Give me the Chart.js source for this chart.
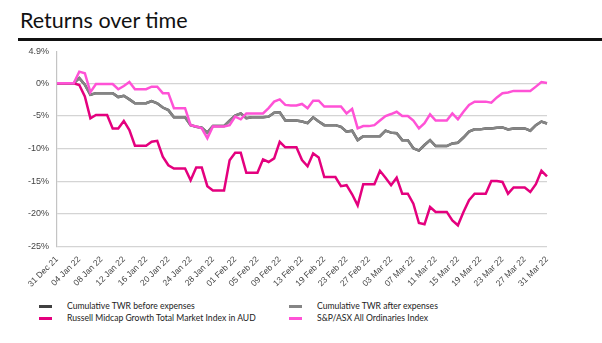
<!DOCTYPE html>
<html>
<head>
<meta charset="utf-8">
<title>Returns over time</title>
<script src="https://cdn.jsdelivr.net/npm/chart.js@4.4.1/dist/chart.umd.min.js"></script>
<style>
  html, body { margin: 0; padding: 0; background: #fff; }
  #wrap { position: relative; width: 602px; height: 343px; overflow: hidden; }
  #title {
    position: absolute; left: 20px; top: 8px;
    font-family: Lato, "Open Sans", sans-serif; font-size: 21.5px; color: #111;
    line-height: 25px;
  }
  #rule { position: absolute; left: 18px; right: 0; top: 37.5px; height: 3px; background: #111; }
  #returns-chart { position: absolute; left: 0; top: 0; }
  .leg { position: absolute; font-family: Lato, "Open Sans", sans-serif; font-size: 8.6px; color: #222; line-height: 12px; white-space: nowrap; }
  .leg span { position: absolute; left: -28px; top: 4.5px; width: 13px; height: 3px; }
</style>
</head>
<body>
<div id="wrap">
  <div id="title">Returns over time</div>
  <div id="rule"></div>
  <canvas id="returns-chart" width="602" height="300"></canvas>
  <div id="legend"></div>
</div>
<script>
// daily dates on the category axis (two days absent in mid February)
const dates = [
  "31 Dec 21",
  "01 Jan 22", "02 Jan 22", "03 Jan 22", "04 Jan 22", "05 Jan 22", "06 Jan 22", "07 Jan 22", "08 Jan 22",
  "09 Jan 22", "10 Jan 22", "11 Jan 22", "12 Jan 22", "13 Jan 22", "14 Jan 22", "15 Jan 22", "16 Jan 22",
  "17 Jan 22", "18 Jan 22", "19 Jan 22", "20 Jan 22", "21 Jan 22", "22 Jan 22", "23 Jan 22", "24 Jan 22",
  "25 Jan 22", "26 Jan 22", "27 Jan 22", "28 Jan 22", "29 Jan 22", "30 Jan 22", "31 Jan 22",
  "01 Feb 22", "02 Feb 22", "03 Feb 22", "04 Feb 22", "05 Feb 22", "06 Feb 22", "07 Feb 22", "08 Feb 22",
  "09 Feb 22", "10 Feb 22", "11 Feb 22", "12 Feb 22", "13 Feb 22", "15 Feb 22", "16 Feb 22", "17 Feb 22",
  "19 Feb 22", "20 Feb 22", "21 Feb 22", "22 Feb 22", "23 Feb 22", "24 Feb 22", "25 Feb 22", "26 Feb 22",
  "27 Feb 22", "28 Feb 22",
  "01 Mar 22", "02 Mar 22", "03 Mar 22", "04 Mar 22", "05 Mar 22", "06 Mar 22", "07 Mar 22", "08 Mar 22",
  "09 Mar 22", "10 Mar 22", "11 Mar 22", "12 Mar 22", "13 Mar 22", "14 Mar 22", "15 Mar 22", "16 Mar 22",
  "17 Mar 22", "18 Mar 22", "19 Mar 22", "20 Mar 22", "21 Mar 22", "22 Mar 22", "23 Mar 22", "24 Mar 22",
  "25 Mar 22", "26 Mar 22", "27 Mar 22", "28 Mar 22", "29 Mar 22", "30 Mar 22", "31 Mar 22"
];

// cumulative returns, %
const twrBeforeExpenses = [
  0, 0, 0, 0, 0.8, -0.2, -1.75, -1.5, -1.5, -1.5, -1.5, -2.1, -1.9, -2.45, -3.05, -3.05,
  -3.05, -2.7, -3.05, -3.7, -4.1, -5.2, -5.2, -5.2, -6.4, -6.65, -6.8, -7.55, -6.55, -6.55, -6.55, -5.7,
  -4.95, -4.6, -5.35, -5.2, -5.2, -5.2, -5.1, -4.5, -4.45, -5.7, -5.7, -5.7, -5.85, -6.1, -5.2, -5.85,
  -6.4, -6.4, -6.4, -6.65, -7.4, -7.25, -8.7, -8.1, -8.1, -8.1, -8.1, -7.25, -7.55, -7.65, -8.7, -8.7,
  -9.95, -10.3, -9.45, -8.7, -9.6, -9.6, -9.6, -9.2, -9.1, -8.3, -7.4, -7.05, -7.05, -6.9, -6.9, -6.8,
  -6.75, -7.05, -6.9, -6.9, -6.9, -7.25, -6.4, -5.85, -6.15
];
const twrAfterExpenses = [
  0, 0, 0, 0, 0.8, -0.2, -1.75, -1.5, -1.5, -1.5, -1.5, -2.1, -1.9, -2.45, -3.05, -3.05,
  -3.05, -2.7, -3.05, -3.7, -4.1, -5.2, -5.2, -5.2, -6.4, -6.65, -6.8, -7.55, -6.55, -6.55, -6.55, -5.7,
  -4.95, -4.6, -5.35, -5.2, -5.2, -5.2, -5.1, -4.5, -4.45, -5.7, -5.7, -5.7, -5.85, -6.1, -5.2, -5.85,
  -6.4, -6.4, -6.4, -6.65, -7.4, -7.25, -8.7, -8.1, -8.1, -8.1, -8.1, -7.25, -7.55, -7.65, -8.7, -8.7,
  -9.95, -10.3, -9.45, -8.7, -9.6, -9.6, -9.6, -9.2, -9.1, -8.3, -7.4, -7.05, -7.05, -6.9, -6.9, -6.8,
  -6.75, -7.05, -6.9, -6.9, -6.9, -7.25, -6.4, -5.85, -6.15
];
const russellMidcapGrowth = [
  0, 0, 0, 0, -0.25, -2.0, -5.35, -4.85, -4.85, -4.85, -6.9, -6.9, -5.75, -7.15, -9.55, -9.55,
  -9.55, -8.95, -8.8, -11.25, -12.55, -13.05, -13.05, -13.05, -14.85, -12.9, -12.9, -15.75, -16.4, -16.4, -16.4, -11.8,
  -10.65, -10.65, -13.7, -13.7, -13.7, -11.65, -12.05, -11.5, -8.95, -9.8, -9.8, -9.8, -11.75, -12.7, -10.75, -11.35,
  -14.35, -14.35, -14.35, -15.75, -15.6, -17.0, -18.7, -15.45, -15.45, -15.45, -13.4, -14.45, -15.6, -14.45, -16.9, -16.9,
  -18.45, -21.4, -21.6, -18.95, -19.7, -19.7, -19.7, -21.0, -21.75, -19.7, -17.9, -16.9, -16.9, -16.9, -14.95, -14.95,
  -15.1, -16.9, -15.95, -15.95, -15.95, -16.65, -15.45, -13.4, -14.25
];
const asxAllOrds = [
  0, 0, 0, 0, 1.8, 1.55, -1.35, -0.1, -0.1, -0.1, -0.1, -0.9, -0.4, 0.2, -0.9, -0.9,
  -0.9, -0.5, -0.5, -1.5, -1.5, -3.8, -3.8, -3.8, -6.4, -6.6, -6.9, -8.4, -6.6, -6.6, -6.6, -6.4,
  -5.1, -5.5, -4.6, -4.6, -4.6, -4.6, -3.8, -2.8, -2.45, -3.3, -3.4, -3.4, -3.15, -3.8, -2.65, -2.65,
  -3.55, -3.55, -3.55, -3.55, -4.6, -3.9, -6.9, -6.55, -6.55, -6.4, -5.7, -5.0, -4.7, -4.35, -5.0, -5.0,
  -5.7, -6.9, -6.1, -4.75, -5.7, -5.7, -5.7, -4.6, -5.5, -4.35, -3.3, -2.8, -2.8, -2.8, -2.95, -2.15,
  -1.5, -1.4, -1.15, -1.15, -1.15, -1.15, -0.5, 0.2, 0.05
];

const seriesNames = [
  "Cumulative TWR before expenses",
  "Cumulative TWR after expenses",
  "Russell Midcap Growth Total Market Index in AUD",
  "S&P/ASX All Ordinaries Index"
];
const seriesColours = ["#404040", "#858585", "#e4007e", "#ff52d6"];
const yTicks = [-25, -20, -15, -10, -5, 0, 4.9];

const values = [twrBeforeExpenses, twrAfterExpenses, russellMidcapGrowth, asxAllOrds];
const drawOrder = [3, 2, 1, 0]; // later series sit on top

const datasets = values.map((v, i) => ({
  label: seriesNames[i],
  data: v,
  borderColor: seriesColours[i],
  backgroundColor: seriesColours[i],
  borderWidth: 2.5,
  pointRadius: 0,
  tension: 0,
  fill: false,
  order: drawOrder[i]
}));

const ctx = document.getElementById("returns-chart").getContext("2d");

new Chart(ctx, {
  type: "line",
  data: { labels: dates, datasets: datasets },
  options: {
    responsive: false,
    animation: false,
    layout: { padding: { top: 51.4, right: 55, bottom: 3.5, left: 0 } },
    plugins: { legend: { display: false }, tooltip: { enabled: false } },
    scales: {
      x: {
        offset: false,
        grid: { display: false, drawTicks: false },
        border: { display: false },
        afterFit: (scale) => { scale.height = 50; },
        ticks: {
          autoSkip: false,
          minRotation: 45,
          maxRotation: 45,
          padding: 8,
          color: "#444",
          font: { family: "Liberation Sans, Arial", size: 8.5 },
          callback: function (value, index) {
            return index % 4 === 0 ? this.getLabelForValue(value) : "";
          }
        }
      },
      y: {
        min: -25,
        max: 4.9,
        afterBuildTicks: (scale) => { scale.ticks = yTicks.map(v => ({ value: v })); },
        afterFit: (scale) => { scale.width = 57; },
        grid: {
          drawTicks: false,
          lineWidth: 1.2,
          color: (c) => (c.tick && c.tick.value === 4.9 ? "rgba(0,0,0,0)" : "#d4d4d4")
        },
        border: { color: "#c4c4c4", width: 1.2 },
        ticks: {
          padding: 8,
          color: "#444",
          font: { family: "Liberation Sans, Arial", size: 9 },
          callback: (v) => v + "%"
        }
      }
    }
  }
});

// two-column legend under the plot
const legendPos = [[67, 300], [317, 300], [67, 312], [317, 312]];
const legend = document.getElementById("legend");
seriesNames.forEach((name, i) => {
  const item = document.createElement("div");
  item.className = "leg";
  item.style.left = legendPos[i][0] + "px";
  item.style.top = legendPos[i][1] + "px";
  item.innerHTML = '<span style="background:' + seriesColours[i] + '"></span>' + name.replace("&", "&amp;");
  legend.appendChild(item);
});
</script>
</body>
</html>
